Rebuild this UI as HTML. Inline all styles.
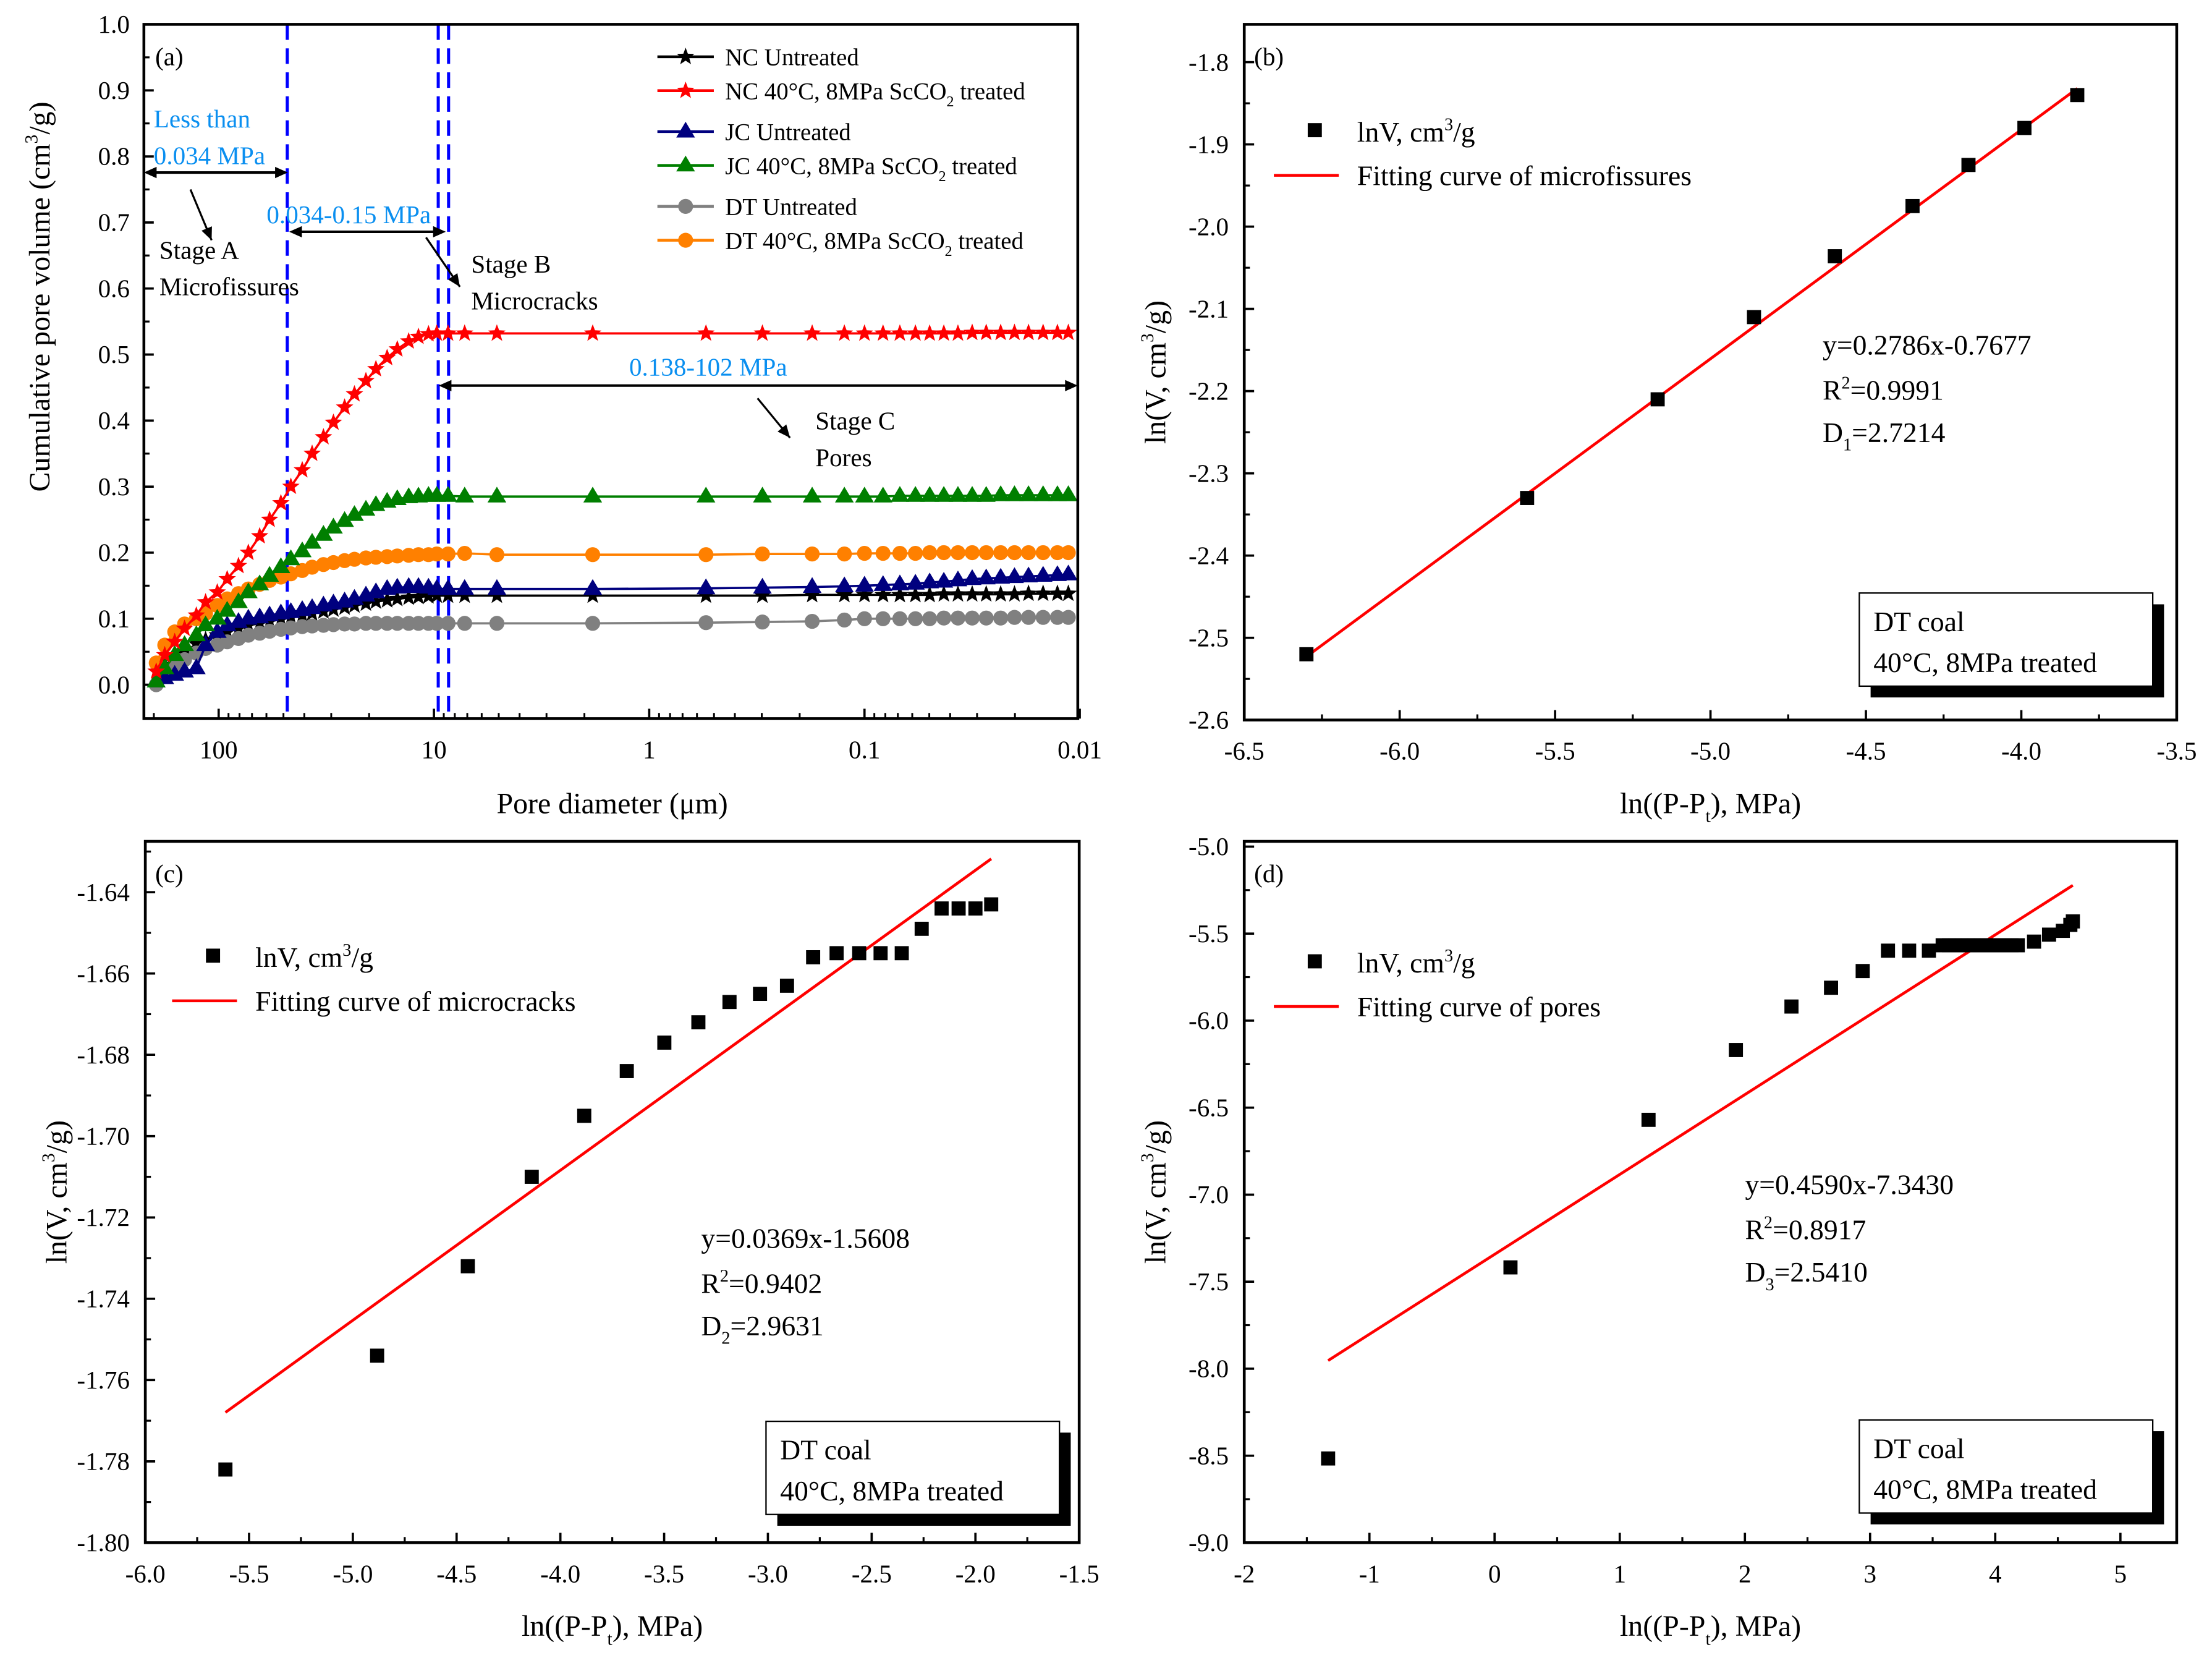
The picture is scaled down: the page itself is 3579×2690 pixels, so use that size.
<!DOCTYPE html>
<html><head><meta charset="utf-8"><style>
html,body{margin:0;padding:0;background:#fff;}
svg{display:block;}
text{font-family:"Liberation Serif","DejaVu Serif",serif;}
</style></head><body>
<svg id="fig" width="3579" height="2690" viewBox="0 0 1568 1178" xmlns="http://www.w3.org/2000/svg">
<rect x="0" y="0" width="1568" height="1178" fill="#fff"/>
<g id="layer"></g>
</svg>
<script>
// ---------- Panel (a) data ----------
const diamA = [195,178,160,144,127,115,101.5,91.3,80.9,72.8,64.5,58,51.4,46.2,40.9,36.8,32.6,29.3,26,23.4,20.7,18.6,16.5,14.8,13.1,11.8,10.6,9.7,8.6,7.2,5.1,1.83,0.545,0.298,0.175,0.124,0.1,0.082,0.0685,0.058,0.0498,0.0428,0.0368,0.0316,0.0272,0.0233,0.0201,0.0173,0.0148,0.0127,0.0113];
const ncUntreated = [0.02,0.03,0.04,0.048,0.062,0.068,0.075,0.08,0.085,0.09,0.093,0.096,0.099,0.102,0.105,0.108,0.111,0.114,0.117,0.12,0.123,0.126,0.128,0.13,0.132,0.133,0.134,0.135,0.135,0.135,0.135,0.135,0.135,0.135,0.136,0.136,0.136,0.136,0.136,0.136,0.136,0.137,0.137,0.137,0.137,0.137,0.137,0.138,0.138,0.138,0.138];
const ncTreated = [0.02,0.045,0.065,0.085,0.105,0.125,0.14,0.16,0.18,0.2,0.225,0.25,0.275,0.3,0.325,0.35,0.375,0.397,0.42,0.44,0.46,0.478,0.495,0.508,0.52,0.527,0.531,0.532,0.532,0.532,0.532,0.532,0.532,0.532,0.532,0.532,0.532,0.532,0.532,0.532,0.532,0.532,0.532,0.533,0.533,0.533,0.533,0.533,0.533,0.533,0.533];
const jcUntreated = [0.005,0.01,0.015,0.02,0.025,0.06,0.08,0.09,0.095,0.1,0.102,0.105,0.108,0.11,0.113,0.116,0.12,0.123,0.126,0.13,0.135,0.14,0.145,0.147,0.148,0.148,0.147,0.145,0.145,0.145,0.145,0.145,0.146,0.147,0.148,0.149,0.15,0.151,0.152,0.153,0.155,0.156,0.158,0.16,0.161,0.162,0.163,0.164,0.165,0.166,0.167];
const jcTreated = [0.005,0.025,0.045,0.06,0.075,0.09,0.1,0.112,0.125,0.14,0.152,0.165,0.178,0.19,0.202,0.215,0.227,0.238,0.248,0.257,0.265,0.272,0.277,0.281,0.284,0.285,0.286,0.286,0.286,0.285,0.285,0.285,0.285,0.285,0.285,0.285,0.285,0.285,0.286,0.286,0.286,0.286,0.286,0.286,0.286,0.287,0.287,0.287,0.287,0.287,0.287];
const dtUntreated = [0.0,0.015,0.028,0.038,0.048,0.055,0.06,0.065,0.07,0.075,0.078,0.081,0.084,0.086,0.088,0.089,0.09,0.091,0.092,0.092,0.093,0.093,0.093,0.093,0.093,0.093,0.093,0.093,0.093,0.093,0.093,0.093,0.094,0.095,0.096,0.098,0.1,0.1,0.1,0.1,0.1,0.101,0.101,0.101,0.101,0.101,0.102,0.102,0.102,0.102,0.102];
const dtTreated = [0.033,0.06,0.08,0.092,0.1,0.108,0.12,0.13,0.138,0.145,0.152,0.158,0.163,0.168,0.173,0.178,0.182,0.185,0.188,0.19,0.192,0.193,0.194,0.195,0.196,0.197,0.197,0.198,0.198,0.199,0.197,0.197,0.197,0.198,0.198,0.198,0.199,0.199,0.199,0.199,0.2,0.2,0.2,0.2,0.2,0.2,0.2,0.2,0.2,0.2,0.2];
const yTicksA = ["0.0","0.1","0.2","0.3","0.4","0.5","0.6","0.7","0.8","0.9","1.0"];
const xTicksA = ["100","10","1","0.1","0.01"];
const stageLines = [48, 9.55, 8.55];

// ---------- Panel (b) data ----------
const xB = [-6.30,-5.59,-5.17,-4.86,-4.60,-4.35,-4.17,-3.99,-3.82];
const yB = [-2.52,-2.33,-2.21,-2.11,-2.036,-1.975,-1.925,-1.88,-1.84];
const fitB = [0.2786,-0.7677];
const xTicksB = ["-6.5","-6.0","-5.5","-5.0","-4.5","-4.0","-3.5"];
const yTicksB = ["-2.6","-2.5","-2.4","-2.3","-2.2","-2.1","-2.0","-1.9","-1.8"];

// ---------- Panel (c) data ----------
const xC = [-5.614,-4.883,-4.446,-4.138,-3.885,-3.680,-3.499,-3.335,-3.185,-3.038,-2.908,-2.782,-2.669,-2.560,-2.457,-2.355,-2.259,-2.163,-2.081,-2.0,-1.924];
const yC = [-1.782,-1.754,-1.732,-1.710,-1.695,-1.684,-1.677,-1.672,-1.667,-1.665,-1.663,-1.656,-1.655,-1.655,-1.655,-1.655,-1.649,-1.644,-1.644,-1.644,-1.643];
const fitC = [0.0369,-1.5608];
const xTicksC = ["-6.0","-5.5","-5.0","-4.5","-4.0","-3.5","-3.0","-2.5","-2.0","-1.5"];
const yTicksC = ["-1.80","-1.78","-1.76","-1.74","-1.72","-1.70","-1.68","-1.66","-1.64"];

// ---------- Panel (d) data ----------
const xD = [-1.33,0.127,1.23,1.928,2.372,2.688,2.941,3.143,3.312,3.470,3.58,3.63,3.68,3.73,3.78,3.83,3.88,3.93,3.98,4.03,4.08,4.13,4.18,4.31,4.43,4.54,4.60,4.62];
const yD = [-8.516,-7.418,-6.570,-6.169,-5.919,-5.811,-5.715,-5.598,-5.598,-5.598,-5.567,-5.567,-5.567,-5.567,-5.567,-5.567,-5.567,-5.567,-5.567,-5.567,-5.567,-5.567,-5.567,-5.546,-5.506,-5.484,-5.45,-5.43];
const fitD = [0.459,-7.343];
const xTicksD = ["-2","-1","0","1","2","3","4","5"];
const yTicksD = ["-9.0","-8.5","-8.0","-7.5","-7.0","-6.5","-6.0","-5.5","-5.0"];

const NS = "http://www.w3.org/2000/svg";
const layer = document.getElementById('layer');
function mk(tag, attrs, parent){
  const e = document.createElementNS(NS, tag);
  for (const k in attrs) e.setAttribute(k, attrs[k]);
  (parent||layer).appendChild(e);
  return e;
}
function txt(x,y,s,size,anchor,parent,fill){
  const t = mk('text',{x:x,y:y,'font-size':size,'text-anchor':anchor||'start',style:'fill:'+(fill||'#000')},parent);
  t.textContent = s;
  return t;
}
function richText(x,y,parts,size,anchor,parent){
  const t = mk('text',{x:x,y:y,'font-size':size,'text-anchor':anchor||'start',style:'fill:#000'},parent);
  parts.forEach(p=>{
    const ts = document.createElementNS(NS,'tspan');
    if(p[1]==='sup'){ts.setAttribute('font-size',size*0.62);ts.setAttribute('dy',-size*0.4);}
    else if(p[1]==='sub'){ts.setAttribute('font-size',size*0.62);ts.setAttribute('dy',size*0.3);}
    ts.textContent=p[0];
    t.appendChild(ts);
    if(p[1]){ const back=document.createElementNS(NS,'tspan'); back.setAttribute('dy',p[1]==='sup'?size*0.4:-size*0.3); back.textContent='\u200b'; t.appendChild(back);}
  });
  return t;
}

// ================= Panel (a) =================
const A = {L:102,R:764,T:17,B:509};
const ax = d => 155 + 152.6*Math.log10(100/d);
const ay = v => 485 - v*468;
const gA = mk('g',{});


stageLines.forEach((d,i)=>{
  const l = mk('line',{x1:ax(d),x2:ax(d),y1:A.T,y2:A.B,stroke:'#0000ff','stroke-width':2.2,'stroke-dasharray':'11,6'},gA);
  
  
});
yTicksA.forEach(s=>{
  const v=parseFloat(s), y=ay(v);
  mk('line',{x1:A.L,x2:A.L+7,y1:y,y2:y,stroke:'#000','stroke-width':1.6},gA);
  const t=txt(A.L-10,y+6,s,18,'end',gA);
  
  
  if(v<1){ const ym=ay(v+0.05); mk('line',{x1:A.L,x2:A.L+4,y1:ym,y2:ym,stroke:'#000','stroke-width':1.4},gA);}
});
xTicksA.forEach(s=>{
  const d=parseFloat(s), x=ax(d);
  mk('line',{x1:x,x2:x,y1:A.B,y2:A.B-7,stroke:'#000','stroke-width':1.6},gA);
  const t=txt(x,537,s,18,'middle',gA);
  
  
});
[1000,100,10,1,0.1].forEach(dec=>{
  for(let m=2;m<=9;m++){
    const d=dec/10*m; const x=ax(d);
    if(x<A.L||x>A.R) continue;
    mk('line',{x1:x,x2:x,y1:A.B,y2:A.B-4,stroke:'#000','stroke-width':1.3},gA);
  }
});
function star(cx,cy,r,fill,parent){
  let p=''; for(let i=0;i<10;i++){const a=-Math.PI/2+i*Math.PI/5; const rr=i%2?r*0.42:r; p+=(i?'L':'M')+(cx+rr*Math.cos(a)).toFixed(2)+','+(cy+rr*Math.sin(a)).toFixed(2);} 
  return mk('path',{d:p+'Z',fill:fill},parent);
}
function tri(cx,cy,r,fill,parent){
  return mk('path',{d:`M${cx},${cy-r}L${cx+r*0.95},${cy+r*0.6}L${cx-r*0.95},${cy+r*0.6}Z`,fill:fill},parent);
}
function circ(cx,cy,r,fill,parent){ return mk('circle',{cx:cx,cy:cy,r:r,fill:fill},parent); }
const seriesA = [
  {name:'nc-untreated', vals:ncUntreated, color:'#000000', mk:star, r:6.5},
  {name:'dt-untreated', vals:dtUntreated, color:'#808080', mk:circ, r:5.3},
  {name:'jc-untreated', vals:jcUntreated, color:'#00007f', mk:tri, r:7},
  {name:'dt-treated', vals:dtTreated, color:'#ff8000', mk:circ, r:5.3},
  {name:'jc-treated', vals:jcTreated, color:'#007f00', mk:tri, r:7},
  {name:'nc-treated', vals:ncTreated, color:'#ff0000', mk:star, r:6.5}
];
seriesA.forEach(s=>{
  const g=mk('g',{},gA);
  
  
  const pts=diamA.map((d,i)=>ax(d).toFixed(2)+','+ay(s.vals[i]).toFixed(2)).join(' ');
  mk('polyline',{points:pts,fill:'none',stroke:s.color,'stroke-width':1.6},g);
  diamA.forEach((d,i)=>{
    const m=s.mk(ax(d),ay(s.vals[i]),s.r,s.color,g);
    
    
  });
});
mk('rect',{x:A.L,y:A.T,width:A.R-A.L,height:A.B-A.T,fill:'none',stroke:'#000','stroke-width':2},gA);
function arrowHead(x,y,ang,parent){
  const L=9,W=4; const c=Math.cos(ang),s=Math.sin(ang);
  return mk('path',{d:`M${x},${y}L${x-L*c+W*s},${y-L*s-W*c}L${x-L*c-W*s},${y-L*s+W*c}Z`,fill:'#000'},parent);
}
function dblArrow(x1,x2,y,parent){
  const g=mk('g',{},parent);
  mk('line',{x1:x1+3,x2:x2-3,y1:y,y2:y,stroke:'#000','stroke-width':1.8},g);
  arrowHead(x2,y,0,g); arrowHead(x1,y,Math.PI,g);
  return g;
}
function arrow(x1,y1,x2,y2,parent){
  const g=mk('g',{},parent);
  mk('line',{x1:x1,y1:y1,x2:x2,y2:y2,stroke:'#000','stroke-width':1.4},g);
  arrowHead(x2,y2,Math.atan2(y2-y1,x2-x1),g);
  return g;
}
const blue='#0a8ff0';
let e;
e=txt(109,90,'Less than',18,'start',gA,blue);  
e=txt(109,116,'0.034 MPa',18,'start',gA,blue);  
e=dblArrow(102,204,122,gA);  
arrow(135,134,150,170,gA);
e=txt(113,183,'Stage A',18,'start',gA);  
e=txt(113,209,'Microfissures',18,'start',gA);  
e=txt(189,158,'0.034-0.15 MPa',18,'start',gA,blue);  
e=dblArrow(205,316,164,gA);  
arrow(302,168,326,203,gA);
e=txt(334,193,'Stage B',18,'start',gA);  
e=txt(334,219,'Microcracks',18,'start',gA);  
e=txt(446,266,'0.138-102 MPa',18,'start',gA,blue);  
e=dblArrow(311,764,273,gA);  
arrow(537,282,560,310,gA);
e=txt(578,304,'Stage C',18,'start',gA);  
e=txt(578,330,'Pores',18,'start',gA);  
e=txt(110,46,'(a)',18,'start',gA);  
const legA=[
  ['NC Untreated',null,'#000',star,6.5,40],
  ['NC 40°C, 8MPa ScCO','2','#ff0000',star,6.5,64],
  ['JC  Untreated',null,'#00007f',tri,7,93],
  ['JC  40°C, 8MPa ScCO','2','#007f00',tri,7,117],
  ['DT Untreated',null,'#808080',circ,5.3,146],
  ['DT 40°C, 8MPa ScCO','2','#ff8000',circ,5.3,170]
];
legA.forEach(l=>{
  const g=mk('g',{},gA);
  
  
  const y=l[5];
  mk('line',{x1:466,x2:506,y1:y,y2:y,stroke:l[2],'stroke-width':2},g);
  l[3](486,y,l[4],l[2],g);
  if(l[1]) richText(514,y+6,[[l[0],null],[l[1],'sub'],[' treated',null]],17,'start',g);
  else txt(514,y+6,l[0],17,'start',g);
});
e=richText(0,0,[['Cumulative pore volume (cm',null],['3','sup'],['/g)',null]],21,'middle',gA);
e.setAttribute('transform','translate(35,210) rotate(-90)');
 
e=txt(434,576,'Pore diameter (μm)',21,'middle',gA);  

// ================= Linear panels =================
function linPanel(o){
  const g=mk('g',{});
  
  
  const sx=v=>o.L+(v-o.x0)/(o.x1-o.x0)*(o.R-o.L);
  const sy=v=>o.B-(v-o.y0)/(o.y1-o.y0)*(o.B-o.T);
  o.yt.forEach((s,i)=>{
    const v=parseFloat(s), y=sy(v);
    mk('line',{x1:o.L,x2:o.L+7,y1:y,y2:y,stroke:'#000','stroke-width':1.6},g);
    const t=txt(o.L-11,y+6,s,18,'end',g);
    
    
    const vm=v+o.yStep/2, ym=sy(vm);
    if(ym>o.T) mk('line',{x1:o.L,x2:o.L+4,y1:ym,y2:ym,stroke:'#000','stroke-width':1.4},g);
  });
  o.xt.forEach(s=>{
    const v=parseFloat(s), x=sx(v);
    mk('line',{x1:x,x2:x,y1:o.B,y2:o.B-7,stroke:'#000','stroke-width':1.6},g);
    const t=txt(x,o.B+28,s,18,'middle',g);
    
    
    const xm=sx(v+o.xStep/2);
    if(xm<o.R) mk('line',{x1:xm,x2:xm,y1:o.B,y2:o.B-4,stroke:'#000','stroke-width':1.4},g);
  });
  const xa=o.xs[0], xb=o.xs[o.xs.length-1];
  const fl=mk('line',{x1:sx(xa),y1:sy(o.fit[0]*xa+o.fit[1]),x2:sx(xb),y2:sy(o.fit[0]*xb+o.fit[1]),stroke:'#ff0000','stroke-width':2},g);
  
  
  o.xs.forEach((v,i)=>{
    const r=mk('rect',{x:sx(v)-5,y:sy(o.ys[i])-5,width:10,height:10,fill:'#000'},g);
    
    
  });
  mk('rect',{x:o.L,y:o.T,width:o.R-o.L,height:o.B-o.T,fill:'none',stroke:'#000','stroke-width':2},g);
  let t=txt(o.L+7,o.T+29,'('+o.id+')',18,'start',g);  
  const lg=mk('g',{},g);
  
  
  mk('rect',{x:o.lx+20,y:o.ly-6,width:10,height:10,fill:'#000'},lg);
  richText(o.lx+55,o.ly+7,[['lnV, cm',null],['3','sup'],['/g',null]],20,'start',lg);
  mk('line',{x1:o.lx-4,x2:o.lx+42,y1:o.ly+31,y2:o.ly+31,stroke:'#ff0000','stroke-width':2},lg);
  txt(o.lx+55,o.ly+38,o.fitName,20,'start',lg);
  const eg=mk('g',{},g);
  
  
  txt(o.ex,o.ey,o.eq[0],20,'start',eg);
  richText(o.ex,o.ey+32,[['R',null],['2','sup'],['='+o.eq[1],null]],20,'start',eg);
  richText(o.ex,o.ey+62,[['D',null],[o.eq[2],'sub'],['='+o.eq[3],null]],20,'start',eg);
  const bg=mk('g',{},g);
  
  
  mk('rect',{x:o.bx+8,y:o.by+8,width:208,height:66,fill:'#000'},bg);
  mk('rect',{x:o.bx,y:o.by,width:208,height:66,fill:'#fff',stroke:'#000','stroke-width':1},bg);
  txt(o.bx+10,o.by+27,'DT coal',20,'start',bg);
  txt(o.bx+10,o.by+56,'40°C, 8MPa treated',20,'start',bg);
  t=richText(0,0,[['ln(V, cm',null],['3','sup'],['/g)',null]],21,'middle',g);
  t.setAttribute('transform',`translate(${o.L-56},${(o.T+o.B)/2}) rotate(-90)`);
   
  t=richText((o.L+o.R)/2,o.B+66,[['ln((P-P',null],['t','sub'],['), MPa)',null]],21,'middle',g);
   
}
linPanel({id:'b',L:882,R:1543,T:17,B:510,x0:-6.5,x1:-3.5,y0:-2.6,y1:-1.754,xt:xTicksB,yt:yTicksB,xStep:0.5,yStep:0.1,xs:xB,ys:yB,fit:fitB,
  lx:907,ly:93,fitName:'Fitting curve of microfissures',ex:1292,ey:251,eq:['y=0.2786x-0.7677','0.9991','1','2.7214'],bx:1318,by:420});
linPanel({id:'c',L:103,R:765,T:596,B:1093,x0:-6.0,x1:-1.5,y0:-1.80,y1:-1.6275,xt:xTicksC,yt:yTicksC,xStep:0.5,yStep:0.02,xs:xC,ys:yC,fit:fitC,
  lx:126,ly:678,fitName:'Fitting curve of microcracks',ex:497,ey:884,eq:['y=0.0369x-1.5608','0.9402','2','2.9631'],bx:543,by:1007});
linPanel({id:'d',L:882,R:1543,T:596,B:1093,x0:-2.0,x1:5.45,y0:-9.0,y1:-4.97,xt:xTicksD,yt:yTicksD,xStep:1,yStep:0.5,xs:xD,ys:yD,fit:fitD,
  lx:907,ly:682,fitName:'Fitting curve of pores',ex:1237,ey:846,eq:['y=0.4590x-7.3430','0.8917','3','2.5410'],bx:1318,by:1006});
</script>
</body></html>
